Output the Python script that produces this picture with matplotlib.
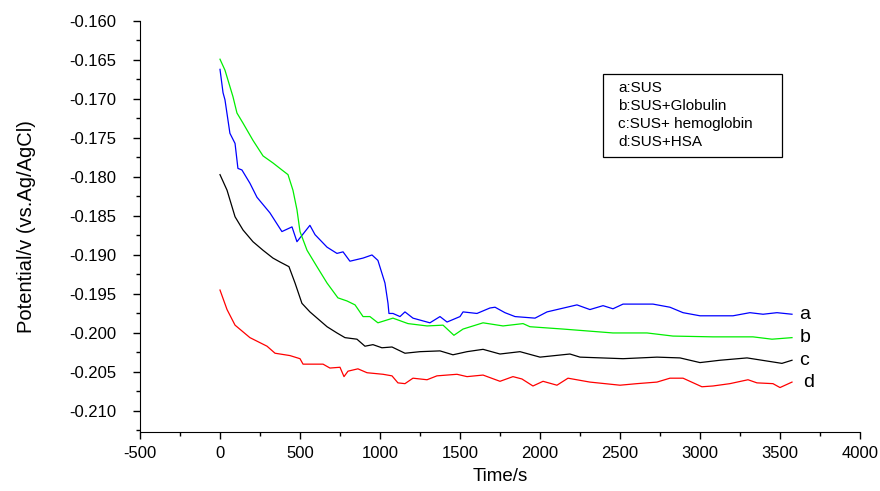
import numpy as np
import matplotlib
matplotlib.use("Agg")
import matplotlib.pyplot as plt
from matplotlib.patches import Rectangle
from matplotlib.ticker import MultipleLocator

plt.rcParams['font.family'] = ['Liberation Sans', 'DejaVu Sans']
plt.rcParams['axes.unicode_minus'] = False

# curve a: SUS (blue)
tA = [0, 19, 31, 62, 94, 112, 137, 187, 231, 312, 387, 450, 481, 562, 594, 669, 731, 769,
      812, 894, 950, 987, 1031, 1050, 1056, 1081, 1125, 1156, 1206, 1312, 1375, 1419, 1500,
      1519, 1606, 1687, 1719, 1781, 1844, 1969, 2044, 2231, 2312, 2394, 2456, 2519, 2706,
      2812, 2894, 3000, 3206, 3312, 3394, 3481, 3575]
vA = [-0.1662, -0.1692, -0.1701, -0.1744, -0.1757, -0.1789, -0.1791, -0.1808, -0.1826,
      -0.1846, -0.1870, -0.1864, -0.1883, -0.1862, -0.1874, -0.1890, -0.1898, -0.1896,
      -0.1908, -0.1904, -0.1900, -0.1907, -0.1936, -0.1962, -0.1975, -0.1975, -0.1979,
      -0.1973, -0.1981, -0.1987, -0.1979, -0.1986, -0.1979, -0.1973, -0.1975, -0.1968,
      -0.1967, -0.1974, -0.1979, -0.1981, -0.1973, -0.1964, -0.1970, -0.1965, -0.1969,
      -0.1963, -0.1963, -0.1967, -0.1974, -0.1978, -0.1978, -0.1974, -0.1976, -0.1974,
      -0.1976]

# curve b: SUS+Globulin (green)
tB = [0, 31, 81, 106, 144, 206, 269, 331, 387, 425, 456, 481, 500, 544, 606, 669, 737, 794,
      844, 894, 937, 987, 1081, 1175, 1294, 1394, 1462, 1519, 1644, 1769, 1894, 1937, 2144,
      2456, 2669, 2831, 3081, 3331, 3450, 3575]
vB = [-0.1649, -0.1663, -0.1697, -0.1718, -0.1731, -0.1753, -0.1773, -0.1782, -0.1791,
      -0.1797, -0.1817, -0.1842, -0.1870, -0.1894, -0.1915, -0.1936, -0.1955, -0.1959,
      -0.1964, -0.1979, -0.1979, -0.1987, -0.1981, -0.1988, -0.1991, -0.1990, -0.2003,
      -0.1995, -0.1987, -0.1991, -0.1988, -0.1992, -0.1995, -0.2000, -0.2000, -0.2004,
      -0.2005, -0.2005, -0.2008, -0.2006]

# curve c: SUS+ hemoglobin (black)
tC = [0, 44, 94, 144, 206, 269, 331, 375, 431, 469, 512, 562, 669, 731, 781, 856, 906, 956,
      1012, 1075, 1156, 1250, 1375, 1456, 1544, 1644, 1750, 1875, 2000, 2187, 2250, 2519,
      2731, 2875, 3000, 3125, 3294, 3481, 3512, 3575]
vC = [-0.1797, -0.1817, -0.1851, -0.1868, -0.1883, -0.1894, -0.1904, -0.1909, -0.1915,
      -0.1936, -0.1962, -0.1973, -0.1992, -0.2000, -0.2006, -0.2008, -0.2017, -0.2015,
      -0.2019, -0.2018, -0.2026, -0.2024, -0.2023, -0.2028, -0.2024, -0.2021, -0.2027,
      -0.2024, -0.2031, -0.2027, -0.2031, -0.2033, -0.2031, -0.2032, -0.2038, -0.2035,
      -0.2032, -0.2038, -0.2039, -0.2035]

# curve d: SUS+HSA (red)
tD = [0, 44, 94, 187, 294, 344, 437, 500, 519, 644, 687, 750, 775, 800, 862, 919, 1019,
      1075, 1112, 1156, 1206, 1294, 1356, 1481, 1544, 1644, 1750, 1831, 1887, 1956, 2019,
      2106, 2175, 2312, 2500, 2606, 2731, 2812, 2894, 3012, 3081, 3187, 3300, 3356, 3456,
      3500, 3575]
vD = [-0.1945, -0.1970, -0.1990, -0.2006, -0.2017, -0.2026, -0.2029, -0.2033, -0.2040,
      -0.2040, -0.2045, -0.2044, -0.2056, -0.2049, -0.2046, -0.2051, -0.2053, -0.2055,
      -0.2064, -0.2065, -0.2058, -0.2060, -0.2055, -0.2053, -0.2056, -0.2054, -0.2062,
      -0.2056, -0.2059, -0.2068, -0.2062, -0.2067, -0.2058, -0.2063, -0.2067, -0.2065,
      -0.2063, -0.2058, -0.2058, -0.2069, -0.2068, -0.2065, -0.2060, -0.2064, -0.2065,
      -0.2070, -0.2063]

curves = [(tA, vA, '#0000ff', 'a'), (tB, vB, '#00ee00', 'b'),
          (tC, vC, '#000000', 'c'), (tD, vD, '#ff0000', 'd')]
legend_lines = ['a:SUS', 'b:SUS+Globulin', 'c:SUS+ hemoglobin', 'd:SUS+HSA']

fig = plt.figure(figsize=(8.8, 4.91), dpi=100)
W, H = 880, 491
ax = fig.add_axes([140 / W, (H - 432) / H, 720 / W, (432 - 21) / H])

for t, v, col, lab in curves:
    dx = 70 if lab == 'd' else 45
    ax.text(t[-1] + dx, v[-1], lab, fontsize=14, va='center', ha='left')
    ax.plot(t, v, color=col, lw=0.9)

ax.set_xlim(-500, 4000)
ax.set_ylim(-0.2127, -0.160)
ax.xaxis.set_major_locator(MultipleLocator(500))
ax.xaxis.set_minor_locator(MultipleLocator(250))
ax.yaxis.set_major_locator(MultipleLocator(0.005))
ax.yaxis.set_minor_locator(MultipleLocator(0.0025))
ax.yaxis.set_major_formatter(plt.FuncFormatter(lambda v, p: f"{v:.3f}"))
ax.spines['top'].set_visible(False)
ax.spines['right'].set_visible(False)
ax.tick_params(which='major', direction='out', length=5, width=1, labelsize=12)
ax.tick_params(axis='y', which='major', pad=12)
ax.tick_params(axis='x', which='major', pad=5)
ax.tick_params(which='minor', direction='out', length=3, width=1)
ax.set_xlabel('Time/s', fontsize=13.5, labelpad=5)
ax.set_ylabel('Potential/v (vs.Ag/AgCl)', fontsize=14.5, labelpad=24)

# legend box (plain text, no handles)
fig.patches.append(Rectangle((603 / W, (H - 157) / H), 179 / W, 83 / H,
                             transform=fig.transFigure, fill=False, lw=0.9,
                             edgecolor='black'))
for i, s in enumerate(legend_lines):
    fig.text(618 / W, (H - 88 - i * 18) / H, s, fontsize=11, va='center', ha='left')

fig.savefig('out.png', dpi=100)
